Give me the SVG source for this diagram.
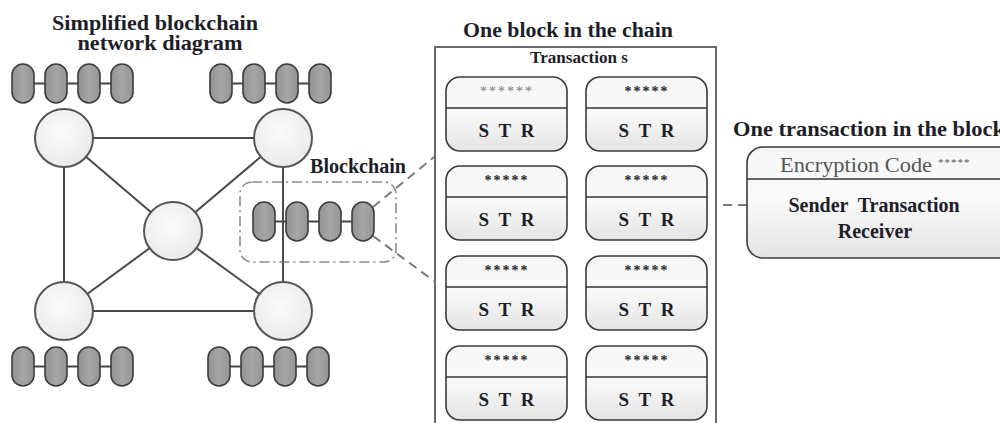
<svg xmlns="http://www.w3.org/2000/svg" xmlns:xlink="http://www.w3.org/1999/xlink" width="1000" height="423" viewBox="0 0 1000 423">
  <style>
    .title { font-family: "Liberation Serif", "Times New Roman", serif; font-weight: bold; font-size: 20px; fill: #1e1e28; }
    .str { font-family: "Liberation Serif", "Times New Roman", serif; font-weight: bold; font-size: 19px; fill: #1e1e28; word-spacing: 5px; }
    .stars { font-family: "Liberation Serif", "Times New Roman", serif; font-weight: bold; font-size: 14px; fill: #2a2a2a; letter-spacing: 2px; }
    .stars-light { fill: #777; font-weight: normal; }
    .edge { stroke: #4a4a4a; stroke-width: 2; fill: none; }
    .dash { stroke: #7a7a7a; stroke-width: 2; fill: none; stroke-dasharray: 9 6; }
    .pill { fill: url(#pillFill); stroke: #3c3c3c; stroke-width: 1.6; }
    .link { stroke: #444; stroke-width: 2; }
    .node { fill: url(#nodeFill); stroke: #555; stroke-width: 2; }
    .card { fill: url(#cardFill); stroke: #3a3a3a; stroke-width: 1.6; }
    .divider { stroke: #333; stroke-width: 1.6; }
  </style>
  <defs>
    <linearGradient id="pillFill" x1="0" y1="0" x2="1" y2="0">
      <stop offset="0" stop-color="#929292"/>
      <stop offset="0.5" stop-color="#a6a6a6"/>
      <stop offset="1" stop-color="#959595"/>
    </linearGradient>
    <radialGradient id="nodeFill" cx="0.45" cy="0.4" r="0.65">
      <stop offset="0" stop-color="#fbfbfb"/>
      <stop offset="1" stop-color="#e9e9e9"/>
    </radialGradient>
    <linearGradient id="cardFill" x1="0" y1="0" x2="0" y2="1">
      <stop offset="0" stop-color="#f6f6f6"/>
      <stop offset="0.45" stop-color="#fafafa"/>
      <stop offset="1" stop-color="#e4e4e4"/>
    </linearGradient>
    <!-- chain of four linked blocks, origin at top-left of first block -->
    <g id="chain">
      <line class="link" x1="22" y1="19.5" x2="33" y2="19.5"/>
      <line class="link" x1="55" y1="19.5" x2="66" y2="19.5"/>
      <line class="link" x1="88" y1="19.5" x2="99" y2="19.5"/>
      <rect class="pill" x="0" y="0" width="22" height="39" rx="11"/>
      <rect class="pill" x="33" y="0" width="22" height="39" rx="11"/>
      <rect class="pill" x="66" y="0" width="22" height="39" rx="11"/>
      <rect class="pill" x="99" y="0" width="22" height="39" rx="11"/>
    </g>
    <!-- one transaction record: hash row above, S T R row below -->
    <g id="tx">
      <rect class="card" x="0" y="0" width="121" height="74" rx="14"/>
      <line class="divider" x1="0" y1="31" x2="121" y2="31"/>
      <text class="str" x="60.5" y="60" text-anchor="middle">S T R</text>
    </g>
  </defs>

  <rect width="1000" height="423" fill="#ffffff"/>

  <!-- titles -->
  <text class="title" x="155" y="30" text-anchor="middle" textLength="206" lengthAdjust="spacingAndGlyphs">Simplified blockchain</text>
  <text class="title" x="160" y="50" text-anchor="middle" textLength="165" lengthAdjust="spacingAndGlyphs">network diagram</text>
  <text class="title" x="568" y="37" text-anchor="middle" textLength="210" lengthAdjust="spacingAndGlyphs">One block in the chain</text>
  <text class="title" x="733" y="136" textLength="272" lengthAdjust="spacingAndGlyphs">One transaction in the block</text>
  <text class="title" x="310" y="173" textLength="96" lengthAdjust="spacingAndGlyphs">Blockchain</text>

  <!-- connectors -->
  <g id="connectors">
    <line class="edge" x1="64" y1="138" x2="283" y2="138"/>
    <line class="edge" x1="64" y1="311" x2="283" y2="311"/>
    <line class="edge" x1="64" y1="138" x2="64" y2="311"/>
    <line class="edge" x1="283" y1="138" x2="283" y2="311"/>
    <line class="edge" x1="64" y1="138" x2="173" y2="231"/>
    <line class="edge" x1="283" y1="138" x2="173" y2="231"/>
    <line class="edge" x1="64" y1="311" x2="173" y2="231"/>
    <line class="edge" x1="283" y1="311" x2="173" y2="231"/>
    <line class="dash" x1="373" y1="207" x2="434" y2="157"/>
    <line class="dash" x1="373" y1="236" x2="434" y2="281"/>
    <line class="dash" x1="708" y1="205" x2="747" y2="205"/>
  </g>

  <!-- network nodes with their local chains -->
  <g id="node-top-left">
    <use xlink:href="#chain" x="12" y="64"/>
    <circle class="node" cx="64" cy="138" r="29"/>
  </g>
  <g id="node-top-right">
    <use xlink:href="#chain" x="210" y="64"/>
    <circle class="node" cx="283" cy="138" r="29"/>
  </g>
  <g id="node-center">
    <circle class="node" cx="173" cy="231" r="29"/>
  </g>
  <g id="node-bottom-left">
    <circle class="node" cx="64" cy="311" r="29"/>
    <use xlink:href="#chain" x="12" y="347"/>
  </g>
  <g id="node-bottom-right">
    <circle class="node" cx="283" cy="311" r="29"/>
    <use xlink:href="#chain" x="208" y="347"/>
  </g>

  <!-- highlighted blockchain -->
  <g id="blockchain">
    <rect x="240" y="182" width="156" height="80" rx="12" fill="none" stroke="#8a8a8a" stroke-width="1.6" stroke-dasharray="10 4 2 4"/>
    <line class="edge" x1="283" y1="182" x2="283" y2="262"/>
    <use xlink:href="#chain" x="253" y="202"/>
  </g>

  <!-- one block: grid of transactions -->
  <g id="block">
    <rect x="435" y="47" width="281" height="390" fill="#ffffff" stroke="#6a6a6a" stroke-width="2"/>
    <text class="title" x="579" y="63" text-anchor="middle" style="font-size:16px" textLength="98" lengthAdjust="spacingAndGlyphs">Transaction s</text>
    <g id="tx-1-1"><use xlink:href="#tx" x="446" y="77"/><text class="stars stars-light" x="507" y="96" text-anchor="middle">******</text></g>
    <g id="tx-1-2"><use xlink:href="#tx" x="586" y="77"/><text class="stars" x="647" y="96" text-anchor="middle">*****</text></g>
    <g id="tx-2-1"><use xlink:href="#tx" x="446" y="166"/><text class="stars" x="507" y="185" text-anchor="middle">*****</text></g>
    <g id="tx-2-2"><use xlink:href="#tx" x="586" y="166"/><text class="stars" x="647" y="185" text-anchor="middle">*****</text></g>
    <g id="tx-3-1"><use xlink:href="#tx" x="446" y="256"/><text class="stars" x="507" y="275" text-anchor="middle">*****</text></g>
    <g id="tx-3-2"><use xlink:href="#tx" x="586" y="256"/><text class="stars" x="647" y="275" text-anchor="middle">*****</text></g>
    <g id="tx-4-1"><use xlink:href="#tx" x="446" y="346"/><text class="stars" x="507" y="365" text-anchor="middle">*****</text></g>
    <g id="tx-4-2"><use xlink:href="#tx" x="586" y="346"/><text class="stars" x="647" y="365" text-anchor="middle">*****</text></g>
  </g>

  <!-- one transaction in detail -->
  <g id="transaction">
    <rect class="card" x="747" y="147" width="270" height="111" rx="16"/>
    <line class="divider" x1="747" y1="179" x2="1017" y2="179"/>
    <text x="780" y="172" font-family="'Liberation Serif', 'Times New Roman', serif" font-size="20" fill="#555"><tspan textLength="152" lengthAdjust="spacingAndGlyphs">Encryption Code</tspan><tspan dx="6" dy="-6" font-size="11" letter-spacing="1">*****</tspan></text>
    <text class="title" x="874" y="212" text-anchor="middle" xml:space="preserve">Sender  Transaction</text>
    <text class="title" x="875" y="238" text-anchor="middle">Receiver</text>
  </g>
</svg>
